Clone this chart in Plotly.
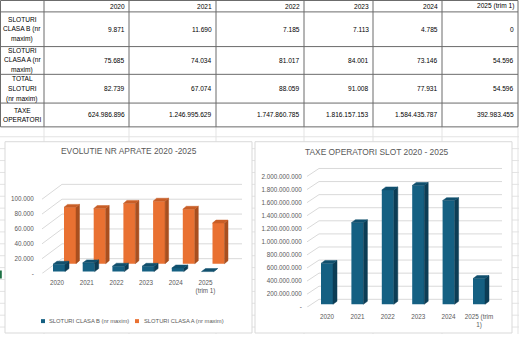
import plotly.graph_objects as go

# ---------------- data ----------------
years = ["2020", "2021", "2022", "2023", "2024", "2025 (trim 1)"]
class_b = [9871, 11690, 7185, 7113, 4785, 0]
class_a = [75685, 74034, 81017, 84001, 73146, 54596]
total_slots = [82739, 67074, 88059, 91008, 77931, 54596]
taxes = [624986896, 1246995629, 1747860785, 1816157153, 1584435787, 392983455]

row_labels = [["SLOTURI", "CLASA B (nr", "maxim)"],
              ["SLOTURI", "CLASA A (nr", "maxim)"],
              ["TOTAL", "SLOTURI", "(nr maxim)"],
              ["TAXE", "OPERATORI"]]
left_title = "EVOLUTIE NR APRATE 2020 -2025"
right_title = "TAXE OPERATORI SLOT 2020 - 2025"
left_xticks = ["2020", "2021", "2022", "2023", "2024", "2025<br>(trim 1)"]
right_xticks = ["2020", "2021", "2022", "2023", "2024", "2025 (trim<br>1)"]
left_yticks = [0, 20000, 40000, 60000, 80000, 100000]
right_yticks = [0, 200000000, 400000000, 600000000, 800000000, 1000000000,
                1200000000, 1400000000, 1600000000, 1800000000, 2000000000]
legend_names = ["SLOTURI CLASA B (nr maxim)", "SLOTURI CLASA A (nr maxim)"]

# ---------------- helpers ----------------
W, H = 519, 337
FONT = "Liberation Sans, Arial, sans-serif"
GREY = "#595959"


def px(x):
    return x / W


def py(y):
    return 1 - y / H


def fmt(v, zero="-"):
    if v == 0:
        return zero
    return f"{int(v):,}".replace(",", ".")


fig = go.Figure()
shapes = []
annotations = []

# ---------------- sheet gridlines (background) ----------------
col_edges = [0.5, 44, 129, 216, 304, 373, 442, 518]
row_edges = [0.5, 12, 47, 75, 104, 128]
for x in col_edges[1:]:
    shapes.append(dict(type="line", xref="paper", yref="paper", layer="below",
                       x0=px(x), x1=px(x), y0=py(128), y1=py(337),
                       line=dict(color="#e3e3e3", width=1)))
y = 138
while y < 337:
    shapes.append(dict(type="line", xref="paper", yref="paper", layer="below",
                       x0=0, x1=1, y0=py(y), y1=py(y),
                       line=dict(color="#e3e3e3", width=1)))
    y += 12
# chart panels
for (x0, x1) in [(5, 252), (255, 512)]:
    shapes.append(dict(type="rect", xref="paper", yref="paper", layer="below",
                       x0=px(x0), x1=px(x1), y0=py(336), y1=py(143),
                       fillcolor="white", line=dict(color="#d9d9d9", width=1)))
# green cell marker
shapes.append(dict(type="line", xref="paper", yref="paper", layer="below",
                   x0=px(0.8), x1=px(0.8), y0=py(273), y1=py(281),
                   line=dict(color="#1e7145", width=2)))

# ---------------- table ----------------
for x in col_edges:
    shapes.append(dict(type="line", xref="paper", yref="paper",
                       x0=px(x), x1=px(x), y0=py(row_edges[0]), y1=py(row_edges[-1]),
                       line=dict(color="#6b6b6b", width=1)))
for yy in row_edges:
    shapes.append(dict(type="line", xref="paper", yref="paper",
                       x0=px(col_edges[0]), x1=px(col_edges[-1]), y0=py(yy), y1=py(yy),
                       line=dict(color="#6b6b6b", width=1)))

TFS = 6.6
for j, yr in enumerate(years):
    annotations.append(dict(text=yr, x=px(col_edges[j + 2] - 2), y=py((row_edges[0] + row_edges[1]) / 2),
                            xref="paper", yref="paper", xanchor="right", yanchor="middle",
                            showarrow=False, font=dict(size=TFS, family=FONT, color="black")))
rows = [class_b, class_a, total_slots, taxes]
for r, vals in enumerate(rows):
    yc = (row_edges[r + 1] + row_edges[r + 2]) / 2
    lines = row_labels[r]
    n = len(lines)
    for k, ln in enumerate(lines):
        yl = yc + (k - (n - 1) / 2) * 10
        annotations.append(dict(text=ln, x=px((col_edges[0] + col_edges[1]) / 2), y=py(yl),
                                xref="paper", yref="paper", xanchor="center", yanchor="middle",
                                showarrow=False, font=dict(size=TFS, family=FONT, color="black")))
    for j, v in enumerate(vals):
        annotations.append(dict(text=fmt(v, zero="0"), x=px(col_edges[j + 2] - 2), y=py(yc),
                                xref="paper", yref="paper", xanchor="right", yanchor="middle",
                                showarrow=False, font=dict(size=TFS, family=FONT, color="black")))


# ---------------- 3D-looking bar helpers ----------------
def faces(xc, vals, w, base, ddx, ddy):
    sx, sy, tx, ty = [], [], [], []
    for x, v in zip(xc, vals):
        l, r = x - w / 2, x + w / 2
        b, t = base, base + v
        sx += [r, r + ddx, r + ddx, r, r, None]
        sy += [b, b + ddy, t + ddy, t, b, None]
        tx += [l, r, r + ddx, l + ddx, l, None]
        ty += [t, t, t + ddy, t + ddy, t, None]
    return sx, sy, tx, ty


def add_bar3d(xc, vals, w, base, ddx, ddy, c_front, c_side, c_top, xa, ya):
    sx, sy, tx, ty = faces(xc, vals, w, base, ddx, ddy)
    fig.add_trace(go.Bar(x=xc, y=vals, base=base, width=w, marker=dict(color=c_front, line=dict(width=0)),
                         xaxis=xa, yaxis=ya, showlegend=False, hoverinfo="skip"))
    fig.add_trace(go.Scatter(x=sx, y=sy, mode="lines", fill="toself", fillcolor=c_side,
                             line=dict(color=c_side, width=0.5), xaxis=xa, yaxis=ya,
                             showlegend=False, hoverinfo="skip"))
    fig.add_trace(go.Scatter(x=tx, y=ty, mode="lines", fill="toself", fillcolor=c_top,
                             line=dict(color=c_top, width=0.5), xaxis=xa, yaxis=ya,
                             showlegend=False, hoverinfo="skip"))


def add_grid(ticks, x_lo, x_hi, gdx, gdy, xa, ya):
    # perspective gridlines drawn below the bars
    for t in ticks:
        shapes.append(dict(type="line", xref=xa, yref=ya, layer="below",
                           x0=x_lo, y0=t, x1=x_lo + gdx, y1=t + gdy,
                           line=dict(color="#d9d9d9", width=1)))
        shapes.append(dict(type="line", xref=xa, yref=ya, layer="below",
                           x0=x_lo + gdx, y0=t + gdy, x1=x_hi, y1=t + gdy,
                           line=dict(color="#d9d9d9", width=1)))


BLUE, BLUE_SIDE, BLUE_TOP = "#156082", "#0c3d55", "#11506e"
ORANGE, ORANGE_SIDE, ORANGE_TOP = "#E97132", "#a94f1f", "#c85e27"

# ---------------- left chart geometry (pixels) ----------------
L_x0, L_s = 57, 29.7           # category 0 pixel, spacing
L_left, L_right = 42, 242
L_zero, L_top = 276, 185
L_k = 0.75 / 1000              # px per unit
Lu = 1 / L_s                   # x units per px
Lv = 1 / L_k                   # y units per px
idx = list(range(len(years)))
L_xr = [(L_left - L_x0) * Lu, (L_right - L_x0) * Lu]
L_yr = [0, (L_zero - L_top) * Lv]

add_grid(left_yticks, L_xr[0], L_xr[1], 20 * Lu, 15 * Lv, "x", "y")
add_bar3d([i + 13 * Lu for i in idx], class_a, 12 * Lu, 10 * Lv, 3.5 * Lu, 3 * Lv,
          ORANGE, ORANGE_SIDE, ORANGE_TOP, "x", "y")
add_bar3d([i + 2 * Lu for i in idx], class_b, 12 * Lu, 2 * Lv, 4 * Lu, 3 * Lv,
          BLUE, BLUE_SIDE, BLUE_TOP, "x", "y")

# ---------------- right chart geometry (pixels) ----------------
R_x0, R_s = 327, 30.4
R_left, R_right = 307, 502
R_zero, R_top = 310, 166
R_k = 132 / 2e9
Ru = 1 / R_s
Rv = 1 / R_k
R_xr = [(R_left - R_x0) * Ru, (R_right - R_x0) * Ru]
R_yr = [0, (R_zero - R_top) * Rv]

add_grid(right_yticks, R_xr[0], R_xr[1], 12 * Ru, 8 * Rv, "x2", "y2")
add_bar3d(idx, taxes, 12 * Ru, 3 * Rv, 4 * Ru, 3 * Rv,
          BLUE, BLUE_SIDE, BLUE_TOP, "x2", "y2")

# ---------------- titles & legend ----------------
annotations.append(dict(text=left_title, x=px(129), y=py(152), xref="paper", yref="paper",
                        showarrow=False, xanchor="center", yanchor="middle",
                        font=dict(size=8.4, family=FONT, color=GREY)))
annotations.append(dict(text=right_title, x=px(377), y=py(153), xref="paper", yref="paper",
                        showarrow=False, xanchor="center", yanchor="middle",
                        font=dict(size=8.4, family=FONT, color=GREY)))
for (mx, tx), name, col in zip([(43, 47), (137, 142)], legend_names, [BLUE, ORANGE]):
    shapes.append(dict(type="rect", xref="paper", yref="paper",
                       x0=px(mx - 2), x1=px(mx + 2), y0=py(326), y1=py(322),
                       fillcolor=col, line=dict(width=0)))
    annotations.append(dict(text=name, x=px(tx), y=py(324), xref="paper", yref="paper",
                            showarrow=False, xanchor="left", yanchor="middle",
                            font=dict(size=5.8, family=FONT, color=GREY)))

tick_font = dict(size=6.3, family=FONT, color=GREY)
common = dict(showgrid=False, zeroline=False, showline=False, fixedrange=True,
              tickfont=tick_font, ticks="outside", tickcolor="rgba(0,0,0,0)")

fig.update_layout(
    width=W, height=H, margin=dict(l=0, r=0, t=0, b=0),
    paper_bgcolor="white", plot_bgcolor="rgba(0,0,0,0)",
    barmode="overlay", showlegend=False,
    shapes=shapes, annotations=annotations,
    xaxis=dict(domain=[px(L_left), px(L_right)], range=L_xr, tickvals=idx, ticktext=left_xticks,
               ticklen=3, anchor="y", **common),
    yaxis=dict(domain=[py(L_zero), py(L_top)], range=L_yr, tickvals=left_yticks,
               ticktext=[fmt(v) for v in left_yticks], ticklen=6, anchor="x", **common),
    xaxis2=dict(domain=[px(R_left), px(R_right)], range=R_xr, tickvals=idx, ticktext=right_xticks,
                ticklen=3, anchor="y2", **common),
    yaxis2=dict(domain=[py(R_zero), py(R_top)], range=R_yr, tickvals=right_yticks,
                ticktext=[fmt(v) for v in right_yticks], ticklen=3, anchor="x2", **common),
)

fig.write_html("out.html")
